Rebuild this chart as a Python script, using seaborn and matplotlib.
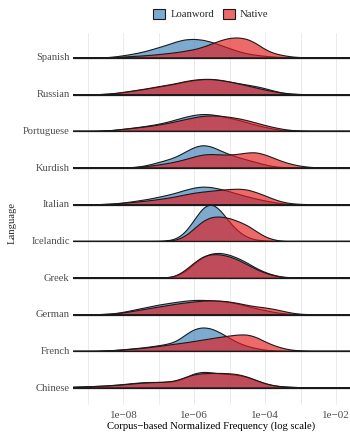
import numpy as np
import pandas as pd
import matplotlib
matplotlib.use("Agg")
import matplotlib.pyplot as plt
from matplotlib.colors import to_rgba
from matplotlib.patches import Patch
from matplotlib.ticker import NullFormatter
import seaborn as sns

languages = ["Spanish", "Russian", "Portuguese", "Kurdish", "Italian",
             "Icelandic", "Greek", "German", "French", "Chinese"]
origins = ["Loanword", "Native"]
origin_colors = ["#377EB8", "#E41A1C"]

# ridge outline heights, one sample every 0.25 decade
# (log10 of the first sample, heights)
loanword_ridges = {
    "Spanish": (-8.5, [0.3, 1, 2.5, 4, 6, 8.5, 11.5, 14.5, 18, 20.5, 21, 20, 17.5, 14,
                       10.5, 7, 4.5, 3, 1.8, 1, 0.5, 0.2]),
    "Russian": (-8.5, [0.3, 1, 2, 3.2, 4.5, 6, 7.5, 9, 10.5, 12.5, 14, 15, 15, 14, 12.5,
                       11, 9.5, 8, 6, 3.5, 1.5, 0.5, 0.1]),
    "Portuguese": (-8.5, [0.3, 1, 2, 3, 4.2, 5.5, 7, 9, 11.5, 14, 16, 17, 16.5, 15, 13,
                          11, 8.5, 6, 4, 2, 0.8, 0.2]),
    "Kurdish": (-7.75, [0.3, 1, 2.5, 4.5, 6.5, 9, 13, 17, 19, 17.5, 14, 11, 8.5, 6.5,
                        4.5, 2.5, 1, 0.3]),
    "Italian": (-8.5, [0.3, 0.8, 1.8, 3, 4.5, 6, 8, 10, 12.5, 15.5, 18, 19.3, 18.5, 16.5,
                       14, 11, 8.5, 6, 4, 2.2, 0.8, 0.2]),
    "Icelandic": (-6.75, [0.3, 2, 8, 20, 33, 37, 30, 18, 9, 3.5, 1, 0.3]),
    "Greek": (-6.75, [0.3, 1.5, 6, 14, 21, 24.5, 25, 23, 19.5, 15, 9.5, 5.5, 2.5, 0.8, 0.2]),
    "German": (-8.5, [0.3, 1, 2.5, 4.5, 6.5, 8.5, 10.5, 12, 13.5, 14.8, 15.7, 15.7, 15.2,
                      14.5, 13.5, 11.5, 9, 6.5, 4.5, 2.5, 1, 0.3]),
    "French": (-8.5, [0.3, 0.8, 1.5, 2.2, 3, 4, 5.2, 6.5, 9, 15, 20.5, 22.3, 21, 17, 12,
                      7.5, 4.5, 2.5, 1, 0.3]),
    "Chinese": (-9.5, [0.8, 1.2, 1.5, 2, 2.5, 3.3, 4.2, 5.3, 6.3, 6.8, 6.8, 7, 8, 12, 17.5,
                       19.5, 18.5, 17, 16.5, 15.5, 13, 9, 5, 2.5, 1.3, 0.8, 0.5, 0.3, 0.2]),
}
native_ridges = {
    "Spanish": (-8.5, [0.3, 0.6, 1, 1.5, 2, 2.7, 3.5, 4.5, 5.5, 7, 8.5, 11, 14.5, 18, 20.5,
                       21, 19.5, 15, 8.5, 4.5, 2.5, 1, 0.4, 0.1]),
    "Russian": (-8.5, [0.3, 1, 2.2, 3.5, 4.8, 6.2, 7.8, 9.2, 10.8, 12.8, 14.2, 15, 15, 14,
                       12.5, 10.5, 8.5, 6.5, 4.5, 2.8, 1.3, 0.4, 0.1]),
    "Portuguese": (-8.5, [0.3, 1, 2, 3, 4, 5, 6.5, 8, 10, 12, 14, 15.5, 16, 15.5, 14.5, 13,
                          11, 8.5, 6, 3.8, 2, 0.8, 0.2]),
    "Kurdish": (-7.75, [0.3, 1, 2, 3.5, 5, 7, 9.5, 12.5, 15, 15.5, 14.8, 14.7, 15.5, 17.2,
                        17.7, 15, 11, 7, 4, 2, 0.7, 0.2]),
    "Italian": (-8.5, [0.3, 0.7, 1.5, 2.3, 3.2, 4.2, 5.5, 6.8, 8.5, 10.5, 12.3, 13.5, 14.5,
                       15.5, 16.3, 16.7, 16, 13, 9.5, 5.5, 2.5, 0.9, 0.3]),
    "Icelandic": (-6.75, [0.3, 1.5, 5, 12, 19, 22.5, 22.5, 21, 18, 14.5, 9, 4, 1.5, 0.3]),
    "Greek": (-6.75, [0.5, 2.5, 8, 15.5, 21.5, 23.5, 23, 21, 17.5, 13, 8.5, 5, 2.5, 0.8, 0.2]),
    "German": (-8.5, [0.3, 0.8, 1.8, 3.2, 4.8, 6.3, 7.8, 9.3, 10.8, 12, 13, 14, 14.3, 14, 13,
                      11.5, 9.5, 8, 7, 5.5, 3.5, 1.5, 0.4]),
    "French": (-8.5, [0.3, 0.8, 1.5, 2.2, 3, 4, 5.2, 6.5, 7.8, 9, 10.5, 12, 13.5, 15, 16.3,
                      17.5, 17.7, 15, 10, 6, 3, 1.2, 0.4]),
    "Chinese": (-9.5, [0.8, 1, 1.3, 1.6, 2, 2.6, 3.3, 4.2, 5, 5.5, 5.8, 6.2, 7.5, 11, 14, 15,
                       15.3, 15.3, 15, 14, 11.5, 8, 4.5, 2.3, 1.2, 0.7, 0.4, 0.3, 0.2]),
}

major_exponents = [-8, -6, -4, -2]
minor_exponents = [-9, -7, -5, -3]
tick_labels = ["1e\u221208", "1e\u221206", "1e\u221204", "1e\u221202"]

# long table for seaborn
rows = []
for origin, ridges in zip(origins, [loanword_ridges, native_ridges]):
    for lang, (start, heights) in ridges.items():
        for i, h in enumerate(heights):
            rows.append({"language": lang, "origin": origin,
                         "freq": 10 ** (start + 0.25 * i), "weight": h})
df = pd.DataFrame(rows)

sns.set_theme(style="white")
plt.rcParams["font.family"] = ["Liberation Serif", "DejaVu Serif"]

W, H = 350, 436
fig = plt.figure(figsize=(W / 100, H / 100), dpi=100)
xlim = (10 ** -9.42, 10 ** -1.61)
panel_left, panel_right, panel_top, panel_bottom = 73, 350, 33, 405

# background panel: grid, x ticks and titles
bg = fig.add_axes([panel_left / W, (H - panel_bottom) / H,
                   (panel_right - panel_left) / W, (panel_bottom - panel_top) / H])
bg.set_xscale("log")
bg.set_xlim(xlim)
bg.set_yticks([])
bg.set_xticks(10.0 ** np.array(major_exponents))
bg.set_xticklabels(tick_labels)
bg.set_xticks(10.0 ** np.array(minor_exponents), minor=True)
bg.xaxis.set_minor_formatter(NullFormatter())
bg.grid(True, which="both", axis="x", color="#EBEBEB", linewidth=0.7)
bg.tick_params(which="both", length=0, labelsize=8, labelcolor="#4D4D4D", pad=4)
for s in bg.spines.values():
    s.set_visible(False)
bg.set_xlabel("Corpus\u2212based Normalized Frequency (log scale)", fontsize=7.7,
              color="black", labelpad=1.5)

px_per_density = 42
row_h = 70
spacing = 36.67
for i, lang in enumerate(languages):
    base = 58 + i * spacing
    ax = fig.add_axes([panel_left / W, (H - base) / H,
                       (panel_right - panel_left) / W, row_h / H])
    for origin, color in zip(origins, origin_colors):
        sub = df[(df["language"] == lang) & (df["origin"] == origin) & (df["weight"] > 0)]
        lx = np.log10(sub["freq"])
        mu = np.average(lx, weights=sub["weight"])
        sd = np.sqrt(np.average((lx - mu) ** 2, weights=sub["weight"]))
        sns.kdeplot(data=sub, x="freq", weights="weight", log_scale=True, fill=True,
                    color=color, alpha=0.65, edgecolor="#1A1A1A", linewidth=0.8,
                    bw_method=0.15 / sd, cut=12, gridsize=400, ax=ax)
    ax.axhline(0, color="#1A1A1A", linewidth=0.9, clip_on=False)
    ax.set_xlim(xlim)
    ax.set_ylim(0, row_h / px_per_density)
    ax.set_axis_off()
    ax.text(-0.012, 0, lang, transform=ax.transAxes, ha="right", va="center",
            fontsize=7.6, color="#4D4D4D")

fig.text(12 / W, (H - 223) / H, "Language", rotation=90, ha="center", va="center",
         fontsize=7.7)

handles = [Patch(facecolor=to_rgba(c, 0.65), edgecolor="#1A1A1A", linewidth=0.8, label=o)
           for o, c in zip(origins, origin_colors)]
fig.legend(handles=handles, loc="center", bbox_to_anchor=(211 / W, (H - 14) / H), ncol=2,
           frameon=False, fontsize=7.7, handlelength=1.1, handleheight=1.1,
           columnspacing=0.8, handletextpad=0.5)

fig.savefig("out.png", dpi=100)
